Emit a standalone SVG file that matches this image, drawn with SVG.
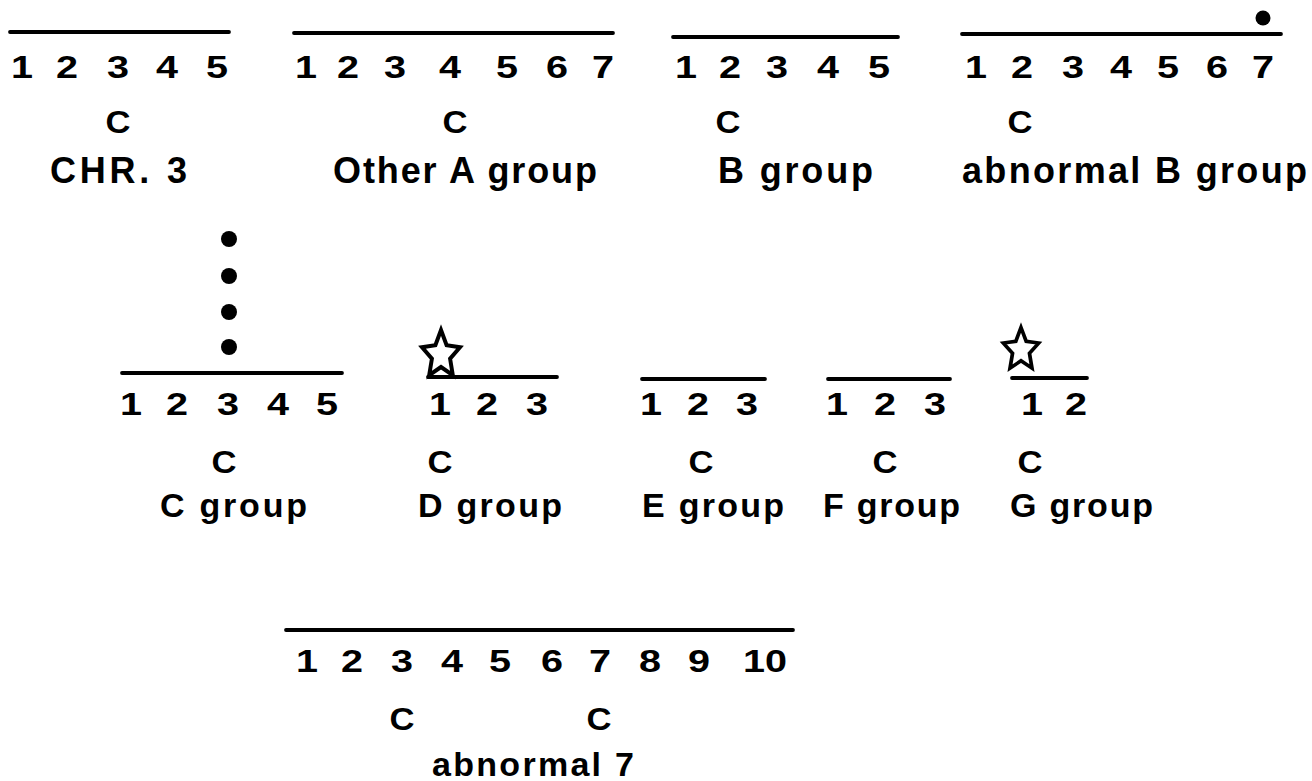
<svg xmlns="http://www.w3.org/2000/svg" xmlns:xlink="http://www.w3.org/1999/xlink" width="1312" height="781" viewBox="0 0 1312 781">
  <style>
    text { font-family: "Liberation Sans", Arial, sans-serif; font-weight: bold; fill: #000; }
    .num { font-size: 32px; text-anchor: middle; }
    .cen { font-size: 31px; text-anchor: middle; }
    .lbl { font-size: 36px; }
    .lbl2 { font-size: 34px; }
    .chr { stroke: #000; stroke-width: 3.8; stroke-linecap: round; fill: none; }
    .dot { fill: #000; }
    .star { fill: #fff; stroke: #000; stroke-width: 4; stroke-linejoin: miter; }
  </style>
  <defs>
    <!-- five-pointed open star, origin at its centre -->
    <polygon id="star" points="0,-25 5.6,-9.7 19,-7.7 9.1,3.7 11.8,20.2 0,12 -11.8,20.2 -9.1,3.7 -19,-7.7 -5.6,-9.7"/>
  </defs>
  <rect width="1312" height="781" fill="#fff"/>

  <!-- chromosome 3 -->
  <g id="chr3">
    <line class="chr" x1="10" y1="32" x2="229" y2="32"/>
    <text class="num" x="22" y="78" textLength="22" lengthAdjust="spacingAndGlyphs">1</text>
    <text class="num" x="67" y="78" textLength="22" lengthAdjust="spacingAndGlyphs">2</text>
    <text class="num" x="118" y="78" textLength="22" lengthAdjust="spacingAndGlyphs">3</text>
    <text class="num" x="167" y="78" textLength="22" lengthAdjust="spacingAndGlyphs">4</text>
    <text class="num" x="217" y="78" textLength="22" lengthAdjust="spacingAndGlyphs">5</text>
    <text class="cen" x="118" y="133" textLength="25" lengthAdjust="spacingAndGlyphs">C</text>
    <text class="lbl" x="50" y="183" textLength="137" lengthAdjust="spacing">CHR. 3</text>
  </g>

  <!-- other A group -->
  <g id="other-a">
    <line class="chr" x1="294" y1="33" x2="613" y2="33"/>
    <text class="num" x="306" y="78" textLength="22" lengthAdjust="spacingAndGlyphs">1</text>
    <text class="num" x="348" y="78" textLength="22" lengthAdjust="spacingAndGlyphs">2</text>
    <text class="num" x="395" y="78" textLength="22" lengthAdjust="spacingAndGlyphs">3</text>
    <text class="num" x="450" y="78" textLength="22" lengthAdjust="spacingAndGlyphs">4</text>
    <text class="num" x="507" y="78" textLength="22" lengthAdjust="spacingAndGlyphs">5</text>
    <text class="num" x="557" y="78" textLength="22" lengthAdjust="spacingAndGlyphs">6</text>
    <text class="num" x="603" y="78" textLength="22" lengthAdjust="spacingAndGlyphs">7</text>
    <text class="cen" x="455" y="133" textLength="25" lengthAdjust="spacingAndGlyphs">C</text>
    <text class="lbl" x="333" y="183" textLength="264" lengthAdjust="spacing">Other A group</text>
  </g>

  <!-- B group -->
  <g id="b-group">
    <line class="chr" x1="673" y1="37" x2="898" y2="37"/>
    <text class="num" x="686" y="78" textLength="22" lengthAdjust="spacingAndGlyphs">1</text>
    <text class="num" x="730" y="78" textLength="22" lengthAdjust="spacingAndGlyphs">2</text>
    <text class="num" x="777" y="78" textLength="22" lengthAdjust="spacingAndGlyphs">3</text>
    <text class="num" x="828" y="78" textLength="22" lengthAdjust="spacingAndGlyphs">4</text>
    <text class="num" x="879" y="78" textLength="22" lengthAdjust="spacingAndGlyphs">5</text>
    <text class="cen" x="728" y="133" textLength="25" lengthAdjust="spacingAndGlyphs">C</text>
    <text class="lbl" x="718" y="183" textLength="155" lengthAdjust="spacing">B group</text>
  </g>

  <!-- abnormal B group -->
  <g id="abnormal-b">
    <line class="chr" x1="962" y1="34" x2="1281" y2="34"/>
    <circle class="dot" cx="1263" cy="18" r="7.5"/>
    <text class="num" x="976" y="78" textLength="22" lengthAdjust="spacingAndGlyphs">1</text>
    <text class="num" x="1022" y="78" textLength="22" lengthAdjust="spacingAndGlyphs">2</text>
    <text class="num" x="1073" y="78" textLength="22" lengthAdjust="spacingAndGlyphs">3</text>
    <text class="num" x="1121" y="78" textLength="22" lengthAdjust="spacingAndGlyphs">4</text>
    <text class="num" x="1168" y="78" textLength="22" lengthAdjust="spacingAndGlyphs">5</text>
    <text class="num" x="1217" y="78" textLength="22" lengthAdjust="spacingAndGlyphs">6</text>
    <text class="num" x="1263" y="78" textLength="22" lengthAdjust="spacingAndGlyphs">7</text>
    <text class="cen" x="1020" y="133" textLength="25" lengthAdjust="spacingAndGlyphs">C</text>
    <text class="lbl" x="962" y="183" textLength="345" lengthAdjust="spacing">abnormal B group</text>
  </g>

  <!-- C group -->
  <g id="c-group">
    <circle class="dot" cx="229" cy="239" r="8"/>
    <circle class="dot" cx="229" cy="276" r="8"/>
    <circle class="dot" cx="229" cy="312" r="8"/>
    <circle class="dot" cx="229" cy="347" r="8"/>
    <line class="chr" x1="122" y1="373" x2="342" y2="373"/>
    <text class="num" x="131" y="415" textLength="22" lengthAdjust="spacingAndGlyphs">1</text>
    <text class="num" x="177" y="415" textLength="22" lengthAdjust="spacingAndGlyphs">2</text>
    <text class="num" x="228" y="415" textLength="22" lengthAdjust="spacingAndGlyphs">3</text>
    <text class="num" x="278" y="415" textLength="22" lengthAdjust="spacingAndGlyphs">4</text>
    <text class="num" x="327" y="415" textLength="22" lengthAdjust="spacingAndGlyphs">5</text>
    <text class="cen" x="224" y="473" textLength="25" lengthAdjust="spacingAndGlyphs">C</text>
    <text class="lbl2" x="160" y="517" textLength="147" lengthAdjust="spacing">C group</text>
  </g>

  <!-- D group -->
  <g id="d-group">
    <line class="chr" x1="428" y1="377" x2="557" y2="377"/>
    <use xlink:href="#star" class="star" x="441" y="355"/>
    <text class="num" x="440" y="415" textLength="22" lengthAdjust="spacingAndGlyphs">1</text>
    <text class="num" x="487" y="415" textLength="22" lengthAdjust="spacingAndGlyphs">2</text>
    <text class="num" x="537" y="415" textLength="22" lengthAdjust="spacingAndGlyphs">3</text>
    <text class="cen" x="440" y="473" textLength="25" lengthAdjust="spacingAndGlyphs">C</text>
    <text class="lbl2" x="418" y="517" textLength="144" lengthAdjust="spacing">D group</text>
  </g>

  <!-- E group -->
  <g id="e-group">
    <line class="chr" x1="642" y1="379" x2="765" y2="379"/>
    <text class="num" x="651" y="415" textLength="22" lengthAdjust="spacingAndGlyphs">1</text>
    <text class="num" x="698" y="415" textLength="22" lengthAdjust="spacingAndGlyphs">2</text>
    <text class="num" x="747" y="415" textLength="22" lengthAdjust="spacingAndGlyphs">3</text>
    <text class="cen" x="701" y="473" textLength="25" lengthAdjust="spacingAndGlyphs">C</text>
    <text class="lbl2" x="642" y="517" textLength="142" lengthAdjust="spacing">E group</text>
  </g>

  <!-- F group -->
  <g id="f-group">
    <line class="chr" x1="828" y1="379" x2="950" y2="379"/>
    <text class="num" x="837" y="415" textLength="22" lengthAdjust="spacingAndGlyphs">1</text>
    <text class="num" x="885" y="415" textLength="22" lengthAdjust="spacingAndGlyphs">2</text>
    <text class="num" x="935" y="415" textLength="22" lengthAdjust="spacingAndGlyphs">3</text>
    <text class="cen" x="885" y="473" textLength="25" lengthAdjust="spacingAndGlyphs">C</text>
    <text class="lbl2" x="823" y="517" textLength="137" lengthAdjust="spacing">F group</text>
  </g>

  <!-- G group -->
  <g id="g-group">
    <line class="chr" x1="1012" y1="378" x2="1087" y2="378"/>
    <use xlink:href="#star" class="star" transform="translate(1021,350) scale(0.93,0.9)"/>
    <text class="num" x="1032" y="415" textLength="22" lengthAdjust="spacingAndGlyphs">1</text>
    <text class="num" x="1076" y="415" textLength="22" lengthAdjust="spacingAndGlyphs">2</text>
    <text class="cen" x="1030" y="473" textLength="25" lengthAdjust="spacingAndGlyphs">C</text>
    <text class="lbl2" x="1010" y="517" textLength="143" lengthAdjust="spacing">G group</text>
  </g>

  <!-- abnormal chromosome 7 -->
  <g id="abnormal-7">
    <line class="chr" x1="286" y1="630" x2="793" y2="630"/>
    <text class="num" x="307" y="672" textLength="22" lengthAdjust="spacingAndGlyphs">1</text>
    <text class="num" x="352" y="672" textLength="22" lengthAdjust="spacingAndGlyphs">2</text>
    <text class="num" x="402" y="672" textLength="22" lengthAdjust="spacingAndGlyphs">3</text>
    <text class="num" x="452" y="672" textLength="22" lengthAdjust="spacingAndGlyphs">4</text>
    <text class="num" x="500" y="672" textLength="22" lengthAdjust="spacingAndGlyphs">5</text>
    <text class="num" x="552" y="672" textLength="22" lengthAdjust="spacingAndGlyphs">6</text>
    <text class="num" x="600" y="672" textLength="22" lengthAdjust="spacingAndGlyphs">7</text>
    <text class="num" x="650" y="672" textLength="22" lengthAdjust="spacingAndGlyphs">8</text>
    <text class="num" x="699" y="672" textLength="22" lengthAdjust="spacingAndGlyphs">9</text>
    <text class="num" x="765" y="672" textLength="44" lengthAdjust="spacingAndGlyphs">10</text>
    <text class="cen" x="402" y="730" textLength="25" lengthAdjust="spacingAndGlyphs">C</text>
    <text class="cen" x="599" y="730" textLength="25" lengthAdjust="spacingAndGlyphs">C</text>
    <text class="lbl2" x="432" y="776" textLength="202" lengthAdjust="spacing">abnormal 7</text>
  </g>

  <!-- no connectors in this figure -->
  <g id="connectors"/>
</svg>
